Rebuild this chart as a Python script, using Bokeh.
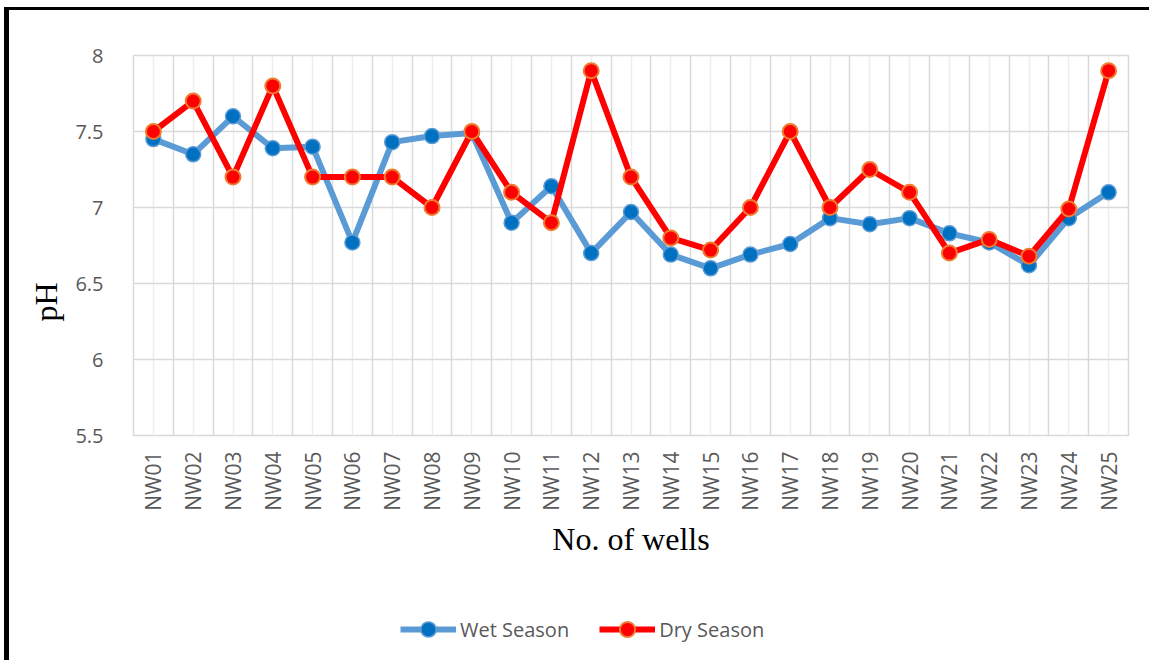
import math
from bokeh.plotting import figure
from bokeh.layouts import column
from bokeh.models import (Range1d, Grid, FixedTicker, Legend, LegendItem, Title,
                          NumeralTickFormatter)
from bokeh.embed import file_html
from bokeh.resources import INLINE

wells = ["NW01", "NW02", "NW03", "NW04", "NW05", "NW06", "NW07", "NW08", "NW09", "NW10",
         "NW11", "NW12", "NW13", "NW14", "NW15", "NW16", "NW17", "NW18", "NW19", "NW20",
         "NW21", "NW22", "NW23", "NW24", "NW25"]
wet_season = [7.45, 7.35, 7.60, 7.39, 7.40, 6.77, 7.43, 7.47, 7.49, 6.90,
              7.14, 6.70, 6.97, 6.69, 6.60, 6.69, 6.76, 6.93, 6.89, 6.93,
              6.83, 6.77, 6.62, 6.93, 7.10]
dry_season = [7.50, 7.70, 7.20, 7.80, 7.20, 7.20, 7.20, 7.00, 7.50, 7.10,
              6.90, 7.90, 7.20, 6.80, 6.72, 7.00, 7.50, 7.00, 7.25, 7.10,
              6.70, 6.79, 6.68, 6.99, 7.90]
y_ticks = [5.5, 6, 6.5, 7, 7.5, 8]

WET_LINE, WET_FILL = "#5B9BD5", "#0070C0"
DRY_LINE, DRY_EDGE = "#FF0000", "#ED7D31"

p = figure(x_range=wells, y_range=Range1d(5.5, 8), width=1140, height=575,
           output_backend="svg", toolbar_location=None,
           min_border_left=124, min_border_right=21, min_border_top=45,
           min_border_bottom=150)

p.outline_line_color = "#D9D9D9"
p.outline_line_width = 1.5

# axes
for ax in (p.xaxis[0], p.yaxis[0]):
    ax.axis_line_color = None
    ax.major_tick_line_color = None
    ax.minor_tick_line_color = None
    ax.major_label_text_color = "#595959"
    ax.major_label_text_font = "Open Sans"

p.yaxis.ticker = FixedTicker(ticks=y_ticks)
p.yaxis.formatter = NumeralTickFormatter(format="0.[0]")
p.yaxis.major_label_text_font_size = "20px"
p.yaxis.major_label_standoff = 24

p.xaxis.major_label_orientation = math.pi / 2
p.xaxis.major_label_text_font_size = "21px"
p.xaxis.major_label_standoff = 10
p.xaxis.axis_label = "No. of wells"
p.xaxis.axis_label_text_font = "Liberation Serif"
p.xaxis.axis_label_text_font_size = "32px"
p.xaxis.axis_label_text_font_style = "normal"
p.xaxis.axis_label_text_color = "black"
p.xaxis.axis_label_standoff = 7

ph = Title(text="pH", align="left", offset=114, standoff=18,
           text_font="Liberation Serif", text_font_size="32px",
           text_font_style="normal", text_color="black")
p.add_layout(ph, "left")

# grids
p.ygrid.grid_line_color = "#D9D9D9"
p.ygrid.grid_line_width = 1.5
p.ygrid.ticker = FixedTicker(ticks=y_ticks)
p.xgrid.grid_line_color = "#EDEDED"
p.xgrid.grid_line_width = 1.5
bgrid = Grid(dimension=0, ticker=FixedTicker(ticks=list(range(len(wells) + 1))),
             grid_line_color="#D9D9D9", grid_line_width=1.5)
p.add_layout(bgrid)

# series
p.line(wells, wet_season, line_color=WET_LINE, line_width=6)
p.scatter(wells, wet_season, size=15, fill_color=WET_FILL,
          line_color=WET_LINE, line_width=1.5)
p.line(wells, dry_season, line_color=DRY_LINE, line_width=6)
p.scatter(wells, dry_season, size=15, fill_color=DRY_LINE,
          line_color=DRY_EDGE, line_width=2)

# legend strip (separate canvas so it is not clipped by the frame);
# its series fall outside its own y range, so only the legend shows
lg = figure(width=1140, height=75, output_backend="svg", toolbar_location=None,
            x_range=p.x_range, y_range=Range1d(0, 1),
            x_axis_type=None, y_axis_type=None, min_border=0)
lg.outline_line_color = None
lwl = lg.line(wells, wet_season, line_color=WET_LINE, line_width=6)
lws = lg.scatter(wells, wet_season, fill_color=WET_FILL, line_color=WET_LINE,
                 line_width=1.5)
ldl = lg.line(wells, dry_season, line_color=DRY_LINE, line_width=6)
lds = lg.scatter(wells, dry_season, fill_color=DRY_LINE, line_color=DRY_EDGE,
                 line_width=2)
legend = Legend(items=[LegendItem(label="Wet Season", renderers=[lwl, lws]),
                       LegendItem(label="Dry Season", renderers=[ldl, lds])],
                orientation="horizontal", location=(267, 12),
                label_text_font="Open Sans", label_text_font_size="20px",
                label_text_color="#595959", glyph_width=56, glyph_height=38,
                label_standoff=4, spacing=30, padding=0, margin=0,
                border_line_color=None, background_fill_alpha=0)
lg.add_layout(legend)

layout = column(p, lg, spacing=0)
layout.styles = {"margin-left": "4px", "margin-top": "7px",
                 "border-left": "5px solid black", "border-top": "3px solid black"}

open("out.html", "w").write(file_html(layout, INLINE))
